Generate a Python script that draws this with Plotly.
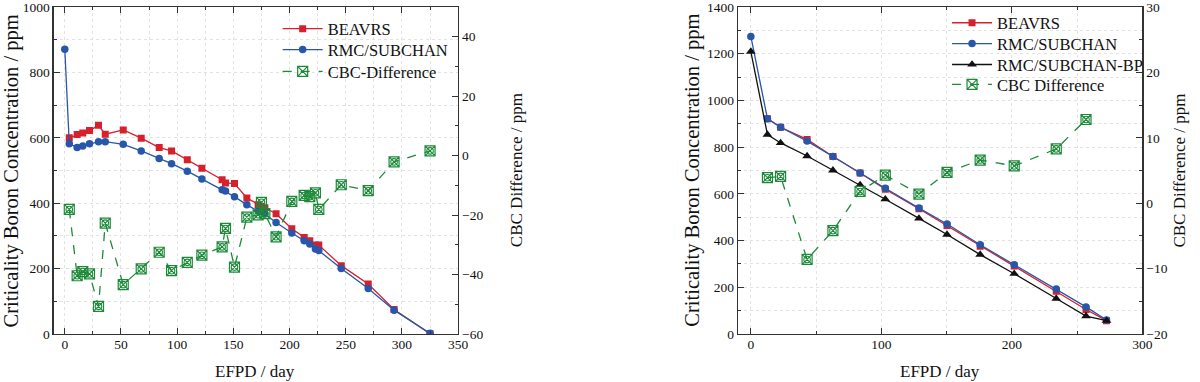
import plotly.graph_objects as go

# ---------------- Left chart data ----------------
L_days = [4, 11, 16, 22, 30, 36, 52, 68, 84, 95, 109, 122, 140, 143, 151, 162,
          172, 175, 178, 188, 202, 213, 218, 223, 226, 246, 270, 293, 325]
L_beavrs = [600, 610, 615, 622, 638, 611, 624, 599, 570, 560, 533, 507, 472, 462, 460, 416,
            395, 391, 386, 368, 322, 295, 285, 272, 272, 209, 153, 75, 1]
L_rmc_days = [0] + L_days
L_rmc = [871, 582, 570, 575, 582, 588, 588, 580, 560, 537, 521, 498, 474, 441, 437, 420, 395,
         376, 375, 367, 341, 309, 285, 275, 260, 255, 200, 139, 73, 2]
L_diff = [-18.1, -40.4, -39.0, -39.8, -50.7, -22.7, -43.4, -38.1, -32.5, -38.7, -35.9, -33.5,
          -30.7, -24.5, -37.5, -20.7, -19.9, -15.7, -19.5, -27.3, -15.4, -13.4, -13.8, -12.5,
          -18.1, -9.8, -11.8, -2.1, 1.6]

# ---------------- Right chart data ----------------
R_days = [0, 12.7, 22.8, 43.1, 62.9, 83.7, 103, 128.8, 150.3, 175.7, 201.8, 234, 256.8, 272.5]
R_beavrs_days = R_days[1:]
R_beavrs = [922, 885, 833, 760, 689, 620, 536, 464, 376, 291, 183, 105, 57]
R_rmc = [1274, 922, 885, 826, 760, 689, 624, 539, 471, 382, 297, 193, 116, 60]
R_bp = [1209, 854, 818, 762, 701, 638, 577, 495, 426, 340, 258, 152, 77, 57]
R_diff_days = [12.7, 22.8, 43.1, 62.9, 83.7, 103, 128.8, 150.3, 175.7, 201.8, 234, 256.8]
R_diff = [3.9, 4.1, -8.6, -4.2, 1.8, 4.3, 1.4, 4.7, 6.6, 5.7, 8.3, 12.8]

RED = "#d7202b"
BLUE = "#2756ab"
GREEN = "#1d8a3a"
BLACK = "#111111"
FONT = "Liberation Serif, Times New Roman, serif"

PLOT_TOP = 5
PLOT_H = 329


def ytop(center_px):
    # legend top (paper coords) so that a single-entry legend is centred at center_px
    return 1 - (center_px - 17.5 - PLOT_TOP) / PLOT_H


fig = go.Figure()


def diff_trace(x, y, name, yaxis, xaxis, legend):
    fig.add_trace(go.Scatter(x=x, y=y, name=name, mode="lines+markers",
                             line=dict(color=GREEN, width=1.3, dash="dash"),
                             marker=dict(symbol="square-x-open", size=10, color=GREEN,
                                         line=dict(width=1.2, color=GREEN)),
                             xaxis=xaxis, yaxis=yaxis, legend=legend))
    fig.add_trace(go.Scatter(x=x, y=y, mode="markers", showlegend=False, hoverinfo="skip",
                             marker=dict(symbol="circle-open", size=6.5, color=GREEN,
                                         line=dict(width=1.1, color=GREEN)),
                             xaxis=xaxis, yaxis=yaxis))


# Left chart
fig.add_trace(go.Scatter(x=L_days, y=L_beavrs, name="BEAVRS", mode="lines+markers",
                         line=dict(color=RED, width=1.3),
                         marker=dict(symbol="square", size=7, color=RED),
                         xaxis="x", yaxis="y", legend="legend"))
fig.add_trace(go.Scatter(x=L_rmc_days, y=L_rmc, name="RMC/SUBCHAN", mode="lines+markers",
                         line=dict(color=BLUE, width=1.3),
                         marker=dict(symbol="circle", size=7.5, color=BLUE),
                         xaxis="x", yaxis="y", legend="legend2"))
diff_trace(L_days, L_diff, "CBC-Difference", "y2", "x", "legend3")

# Right chart
fig.add_trace(go.Scatter(x=R_beavrs_days, y=R_beavrs, name="BEAVRS", mode="lines+markers",
                         line=dict(color=RED, width=1.3),
                         marker=dict(symbol="square", size=7, color=RED),
                         xaxis="x2", yaxis="y3", legend="legend4"))
fig.add_trace(go.Scatter(x=R_days, y=R_rmc, name="RMC/SUBCHAN", mode="lines+markers",
                         line=dict(color=BLUE, width=1.3),
                         marker=dict(symbol="circle", size=7.5, color=BLUE),
                         xaxis="x2", yaxis="y3", legend="legend5"))
fig.add_trace(go.Scatter(x=R_days, y=R_bp, name="RMC/SUBCHAN-BP", mode="lines+markers",
                         line=dict(color=BLACK, width=1.3),
                         marker=dict(symbol="triangle-up", size=8.5, color=BLACK),
                         xaxis="x2", yaxis="y3", legend="legend6"))
diff_trace(R_diff_days, R_diff, "CBC Difference", "y4", "x2", "legend7")

AX = "#333333"
GRID = "#e2e2e2"
tickfont = dict(family=FONT, size=13.5, color="#111")


def xaxis(domain, rng, dtick, mdtick, anchor):
    return dict(domain=domain, range=rng, dtick=dtick, anchor=anchor,
                showline=True, linecolor=AX, linewidth=1.2, mirror="ticks",
                ticks="inside", ticklen=6, tickcolor=AX, tickwidth=1,
                showgrid=True, gridcolor=GRID, griddash="dot", gridwidth=1,
                zeroline=False, tickfont=tickfont, ticklabelstandoff=-2,
                ticklabeloverflow="allow",
                minor=dict(dtick=mdtick, ticks="inside", ticklen=3, tickcolor=AX,
                           showgrid=True, gridcolor=GRID, griddash="dot"))


def yaxis(rng, dtick, mdtick, anchor, side="left", overlaying=None, grid=True):
    d = dict(range=rng, dtick=dtick, anchor=anchor, side=side,
             showline=True, linecolor=AX, linewidth=1.2,
             ticks="inside", ticklen=6, tickcolor=AX, tickwidth=1,
             showgrid=grid, gridcolor=GRID, griddash="dot", gridwidth=1,
             zeroline=False, tickfont=tickfont, ticklabeloverflow="allow",
             minor=dict(dtick=mdtick, ticks="inside", ticklen=3, tickcolor=AX,
                        showgrid=grid, gridcolor=GRID, griddash="dot"))
    if overlaying:
        d["overlaying"] = overlaying
    return d


legfont = dict(family=FONT, size=16.5, color="#111")


def leg(xpx, center_px):
    return dict(x=xpx / 1200, y=ytop(center_px), xanchor="left", yanchor="top",
                bgcolor="rgba(0,0,0,0)", font=legfont, itemwidth=40)


fig.update_layout(
    width=1200, height=382,
    margin=dict(l=0, r=0, t=PLOT_TOP, b=382 - PLOT_TOP - PLOT_H),
    paper_bgcolor="white", plot_bgcolor="white",
    font=dict(family=FONT, color="#111"),
    showlegend=True,
    hovermode=False,
    xaxis=xaxis([54 / 1200, 462 / 1200], [-10, 350], 50, 25, "y"),
    yaxis=yaxis([0, 1000], 200, 100, "x"),
    yaxis2=yaxis([-60, 50], 20, 10, "x", side="right", overlaying="y", grid=False),
    xaxis2=xaxis([744 / 1200, 1152 / 1200], [-10, 300], 100, 50, "y3"),
    yaxis3=yaxis([0, 1400], 200, 100, "x2"),
    yaxis4=yaxis([-20, 30], 10, 5, "x2", side="right", overlaying="y3", grid=False),
    legend=leg(280, 27),
    legend2=leg(280, 48),
    legend3=leg(280, 70),
    legend4=leg(955, 21),
    legend5=leg(955, 42),
    legend6=leg(955, 63),
    legend7=leg(955, 83),
)

xtitle = dict(family=FONT, size=17, color="#111")
ytitle_big = dict(family=FONT, size=20.5, color="#111")
ytitle_small = dict(family=FONT, size=17, color="#111")
ann = [
    dict(text="EFPD / day", x=257 / 1200, y=-38 / PLOT_H, xref="paper", yref="paper",
         showarrow=False, font=xtitle, xanchor="center", yanchor="middle"),
    dict(text="EFPD / day", x=948 / 1200, y=-38 / PLOT_H, xref="paper", yref="paper",
         showarrow=False, font=xtitle, xanchor="center", yanchor="middle"),
    dict(text="Criticality Boron Concentration / ppm", x=12 / 1200, y=0.5,
         xref="paper", yref="paper", showarrow=False, font=ytitle_big, textangle=-90,
         xanchor="center", yanchor="middle"),
    dict(text="CBC Difference / ppm", x=521 / 1200, y=0.5,
         xref="paper", yref="paper", showarrow=False, font=ytitle_small, textangle=-90,
         xanchor="center", yanchor="middle"),
    dict(text="Criticality Boron Concentration / ppm", x=698 / 1200, y=0.5,
         xref="paper", yref="paper", showarrow=False, font=ytitle_big, textangle=-90,
         xanchor="center", yanchor="middle"),
    dict(text="CBC Difference / ppm", x=1189 / 1200, y=0.5,
         xref="paper", yref="paper", showarrow=False, font=ytitle_small, textangle=-90,
         xanchor="center", yanchor="middle"),
]
fig.update_layout(annotations=ann)

fig.write_html("out.html", config={"displayModeBar": False, "staticPlot": True},
               post_script="document.body.style.margin='0px';")
